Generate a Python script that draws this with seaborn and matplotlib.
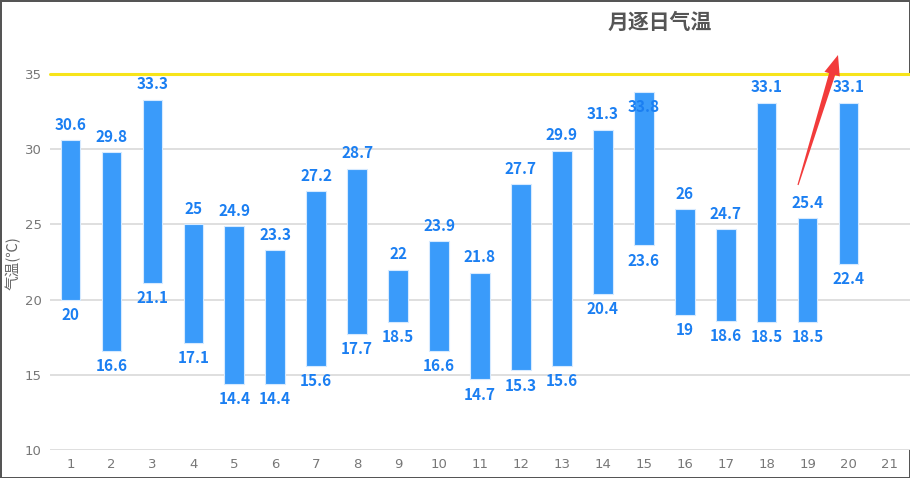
import matplotlib
matplotlib.use("Agg")
import matplotlib.pyplot as plt
from matplotlib.patches import Polygon
import seaborn as sns
import pandas as pd
import numpy as np

days = list(range(1, 21))
high = [30.6, 29.8, 33.3, 25, 24.9, 23.3, 27.2, 28.7, 22, 23.9,
        21.8, 27.7, 29.9, 31.3, 33.8, 26, 24.7, 33.1, 25.4, 33.1]
low = [20, 16.6, 21.1, 17.1, 14.4, 14.4, 15.6, 17.7, 18.5, 16.6,
       14.7, 15.3, 15.6, 20.4, 23.6, 19, 18.6, 18.5, 18.5, 22.4]
x_ticks = list(range(1, 22))
y_ticks = [10, 15, 20, 25, 30, 35]
limit_line = 35

df = pd.DataFrame({"day": days, "high": high, "low": low})
df["span"] = df["high"] - df["low"]

sns.set_style("white")
plt.rcParams["font.family"] = ["DejaVu Sans", "Noto Sans CJK SC"]
cjk = ["Noto Sans CJK SC", "DejaVu Sans"]

W, H = 910, 478
fig = plt.figure(figsize=(W / 100, H / 100), dpi=100)
ax = fig.add_axes([50 / W, 28 / H, 860 / W, 376 / H])

bar_color = "#3a9bfa"
label_color = "#1b7ff2"

sns.barplot(data=df, x="day", y="span", bottom=df["low"], native_scale=True,
            color=bar_color, saturation=1, width=0.48, errorbar=None,
            edgecolor="#d6eaff", linewidth=0.8, ax=ax, zorder=3)

# 数值标签
lab = dict(ha="center", va="center", color=label_color, fontsize=11,
           fontweight="bold", family=cjk, zorder=4, textcoords="offset points")
for d, h, l in zip(days, high, low):
    dy = -11 if h > 33.5 else 11  # 15日的标签压在柱子里
    ax.annotate(f"{h:g}", (d, h), xytext=(0, dy), **lab)
    ax.annotate(f"{l:g}", (d, l), xytext=(0, -11), **lab)

ax.set_xlim(0.5, 21.5)
ax.set_ylim(10, 35)
ax.set_xticks(x_ticks)
ax.set_xticklabels([str(t) for t in x_ticks])
ax.set_yticks(y_ticks)
ax.yaxis.grid(True, color="#dcdcdc", linewidth=1.3, zorder=0)
ax.axhline(limit_line, color="#f7e41a", linewidth=2.2, clip_on=False, zorder=2)
ax.set_axisbelow(True)
for s in ax.spines.values():
    s.set_visible(False)
ax.tick_params(axis="both", length=0, colors="#777777", labelsize=9.5, pad=6)
ax.set_xlabel("")
ax.set_ylabel("")

fig.text(13 / W, 1 - 263 / H, "气温(℃)", rotation=90, ha="center", va="center",
         color="#666666", fontsize=10.5, family=cjk)
fig.text(660 / W, 1 - 22 / H, "月逐日气温", ha="center", va="center",
         color="#555555", fontsize=15, fontweight="bold", family=cjk)

# 红色箭头 (图像像素坐标, y 向下)
tail = np.array([798.0, 185.0])
tip = np.array([838.0, 55.0])
u = (tip - tail) / np.linalg.norm(tip - tail)
n = np.array([-u[1], u[0]])
base = tip - 20 * u
pts = [tail + 0.6 * n, base + 3.2 * n, base + 8 * n, tip,
       base - 8 * n, base - 3.2 * n, tail - 0.6 * n]
pts = [(p[0] / W, 1 - p[1] / H) for p in pts]
fig.patches.append(Polygon(pts, closed=True, transform=fig.transFigure,
                           facecolor="#f23b3b", edgecolor="none", zorder=5))

fig.patch.set_edgecolor("#555555")
fig.patch.set_linewidth(2)

fig.savefig("out.png", dpi=100, edgecolor=fig.get_edgecolor())
